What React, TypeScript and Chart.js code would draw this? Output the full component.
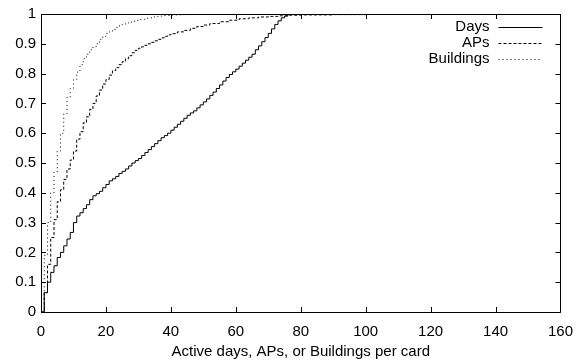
import React, { useEffect, useRef } from 'react';
import { Chart, registerables } from 'chart.js';

Chart.register(...registerables);

// Cumulative fraction of cards vs. active days / APs / buildings per card
const daysX = [
  0, 1, 2, 3, 4, 5, 6, 7, 8, 9, 10, 11, 12, 13, 14, 15, 16, 17, 18, 19, 20,
  21, 22, 23, 24, 25, 26, 27, 28, 29, 30, 31, 32, 33, 34, 35, 36, 37, 38, 39, 40,
  41, 42, 43, 44, 45, 46, 47, 48, 49, 50, 51, 52, 53, 54, 55, 56, 57, 58, 59, 60,
  61, 62, 63, 64, 65, 66, 67, 68, 69, 70, 71, 72, 73, 74, 75, 76, 77,
];
const daysY = [
  0, 0.065, 0.1, 0.133, 0.155, 0.183, 0.2, 0.222, 0.245, 0.267, 0.3,
  0.322, 0.333, 0.347, 0.36, 0.377, 0.39, 0.397, 0.405, 0.417, 0.428,
  0.44, 0.447, 0.455, 0.465, 0.472, 0.48, 0.49, 0.5, 0.508, 0.515,
  0.525, 0.535, 0.545, 0.555, 0.565, 0.575, 0.585, 0.592, 0.6, 0.61,
  0.62, 0.63, 0.64, 0.65, 0.66, 0.668, 0.675, 0.685, 0.695, 0.705,
  0.715, 0.727, 0.738, 0.75, 0.762, 0.775, 0.787, 0.797, 0.806, 0.815,
  0.825, 0.835, 0.845, 0.855, 0.865, 0.88, 0.893, 0.907, 0.921, 0.935,
  0.95, 0.965, 0.977, 0.987, 0.993, 0.998, 1.0,
];

const apsX = [
  0, 1, 2, 3, 4, 5, 6, 7, 8, 9, 10, 11, 12, 13, 14, 15, 16, 17, 18, 19, 20,
  21, 22, 23, 24, 25, 26, 27, 28, 29, 30, 31, 32, 33, 34, 35, 36, 37, 38, 39, 40,
  42, 44, 46, 48, 50, 52, 55, 58, 61, 64, 67, 70, 73, 76, 80, 90, 100, 120, 146,
];
const apsY = [
  0, 0.065, 0.16, 0.25, 0.31, 0.37, 0.41, 0.445, 0.48, 0.51, 0.54,
  0.58, 0.605, 0.635, 0.655, 0.68, 0.7, 0.725, 0.745, 0.765, 0.78,
  0.795, 0.81, 0.82, 0.83, 0.84, 0.85, 0.86, 0.87, 0.878, 0.885,
  0.89, 0.895, 0.9, 0.905, 0.91, 0.915, 0.92, 0.925, 0.93, 0.934,
  0.94, 0.945, 0.952, 0.958, 0.963, 0.968, 0.974, 0.979, 0.984, 0.987,
  0.99, 0.992, 0.994, 0.996, 0.997, 0.998, 0.999, 0.9995, 1.0,
];

const bldX = [
  0, 1, 2, 3, 4, 5, 6, 7, 8, 9, 10, 11, 12, 13, 14, 15, 16, 17, 18, 19, 20,
  21, 22, 23, 24, 25, 26, 27, 28, 29, 30, 32, 34, 36, 38, 40, 43, 46, 50,
];
const bldY = [
  0, 0.19, 0.3, 0.4, 0.47, 0.54, 0.6, 0.665, 0.72, 0.75, 0.78,
  0.805, 0.83, 0.85, 0.865, 0.88, 0.89, 0.9, 0.915, 0.925, 0.935,
  0.94, 0.948, 0.955, 0.96, 0.965, 0.97, 0.973, 0.976, 0.979, 0.982,
  0.986, 0.99, 0.993, 0.995, 0.997, 0.998, 0.999, 1.0,
];

const seriesNames = ['Days', 'APs', 'Buildings'];
const seriesDash = [[], [3, 2], [1, 3]];

const xTicks = [0, 20, 40, 60, 80, 100, 120, 140, 160];
const yTickLabels = ['0', '0.1', '0.2', '0.3', '0.4', '0.5', '0.6', '0.7', '0.8', '0.9', '1'];
const xTitle = 'Active days, APs, or Buildings per card';

const FONT = 'Liberation Sans, Arial, Helvetica, sans-serif';
const FONT_SIZE = 15;

const toPoints = (xs: number[], ys: number[]) => xs.map((x, i) => ({ x, y: ys[i] }));

// Closed frame with inward tick marks on all four sides
const framePlugin = {
  id: 'frame',
  afterDatasetsDraw(chart: any) {
    const { ctx, chartArea: a, scales } = chart;
    const len = 5;
    ctx.save();
    ctx.strokeStyle = '#000';
    ctx.lineWidth = 1;
    ctx.setLineDash([]);
    ctx.beginPath();
    ctx.rect(Math.round(a.left) + 0.5, Math.round(a.top) + 0.5,
      Math.round(a.right - a.left), Math.round(a.bottom - a.top));
    xTicks.forEach((v) => {
      const px = Math.round(scales.x.getPixelForValue(v)) + 0.5;
      ctx.moveTo(px, a.bottom);
      ctx.lineTo(px, a.bottom - len);
      ctx.moveTo(px, a.top);
      ctx.lineTo(px, a.top + len);
    });
    yTickLabels.forEach((_, i) => {
      const py = Math.round(scales.y.getPixelForValue(i / 10)) + 0.5;
      ctx.moveTo(a.left, py);
      ctx.lineTo(a.left + len, py);
      ctx.moveTo(a.right, py);
      ctx.lineTo(a.right - len, py);
    });
    ctx.stroke();
    ctx.restore();
  },
};

// Key in the upper right: right-aligned names followed by line samples
const keyPlugin = {
  id: 'key',
  afterDatasetsDraw(chart: any) {
    const { ctx, chartArea: a } = chart;
    const textRight = a.right - 71;
    const x0 = a.right - 62;
    const x1 = a.right - 18;
    ctx.save();
    ctx.font = `${FONT_SIZE}px ${FONT}`;
    ctx.fillStyle = '#000';
    ctx.textAlign = 'right';
    ctx.textBaseline = 'middle';
    seriesNames.forEach((name, i) => {
      const y = a.top + 13 + i * 16;
      ctx.fillText(name, textRight, y);
      ctx.beginPath();
      ctx.strokeStyle = '#000';
      ctx.lineWidth = 1;
      ctx.setLineDash(seriesDash[i]);
      ctx.moveTo(x0, Math.round(y) + 0.5);
      ctx.lineTo(x1, Math.round(y) + 0.5);
      ctx.stroke();
    });
    ctx.restore();
  },
};

export default function App() {
  const canvasRef = useRef<HTMLCanvasElement | null>(null);

  useEffect(() => {
    const canvas = canvasRef.current;
    if (!canvas) return;
    const series = [toPoints(daysX, daysY), toPoints(apsX, apsY), toPoints(bldX, bldY)];
    const chart = new Chart(canvas, {
      type: 'line',
      data: {
        datasets: series.map((pts, i) => ({
          label: seriesNames[i],
          data: pts,
          borderColor: '#000',
          borderWidth: 1,
          borderDash: seriesDash[i],
          pointRadius: 0,
          stepped: 'before' as const,
          fill: false,
          tension: 0,
        })),
      },
      options: {
        responsive: false,
        animation: false,
        events: [],
        layout: { padding: { top: 14, right: 11, left: 0, bottom: 0 } },
        plugins: {
          legend: { display: false },
          tooltip: { enabled: false },
        },
        scales: {
          x: {
            type: 'linear',
            min: 0,
            max: 160,
            afterFit: (s: any) => { s.height = 50; },
            afterBuildTicks: (s: any) => { s.ticks = xTicks.map((v) => ({ value: v })); },
            grid: { display: false, drawTicks: false },
            border: { display: false },
            ticks: {
              color: '#000',
              padding: 11,
              maxRotation: 0,
              font: { family: FONT, size: FONT_SIZE },
              callback: (v: any) => String(v),
            },
            title: {
              display: true,
              text: xTitle,
              color: '#000',
              font: { family: FONT, size: FONT_SIZE },
              padding: { top: 0, bottom: 1 },
            },
          },
          y: {
            type: 'linear',
            min: 0,
            max: 1,
            afterFit: (s: any) => { s.width = 41; },
            afterBuildTicks: (s: any) => { s.ticks = yTickLabels.map((_, i) => ({ value: i / 10 })); },
            grid: { display: false, drawTicks: false },
            border: { display: false },
            ticks: {
              color: '#000',
              padding: 5,
              font: { family: FONT, size: FONT_SIZE },
              callback: (_v: any, i: number) => yTickLabels[i],
            },
          },
        },
      },
      plugins: [framePlugin, keyPlugin],
    });
    return () => chart.destroy();
  }, []);

  return (
    <div style={{ position: 'absolute', left: 0, top: 0, width: 584, height: 362, background: '#fff' }}>
      <canvas ref={canvasRef} width={584} height={362} style={{ width: 584, height: 362, display: 'block' }} />
    </div>
  );
}
